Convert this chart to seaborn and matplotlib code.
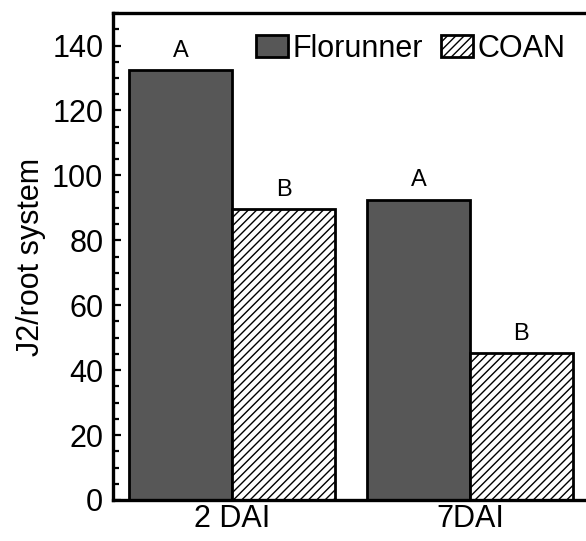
import pandas as pd
import matplotlib.pyplot as plt
import seaborn as sns
from matplotlib.ticker import MultipleLocator

# Values
times = ['2 DAI', '7DAI']
cultivars = ['Florunner', 'COAN']
florunner = [132.5, 92.5]
coan = [89.5, 45.3]
letters_florunner = ['A', 'A']
letters_coan = ['B', 'B']

df = pd.DataFrame({
    'time': times * 2,
    'cultivar': [cultivars[0]] * 2 + [cultivars[1]] * 2,
    'j2': florunner + coan,
})

sns.set_style('ticks')
plt.rcParams['font.family'] = ['Liberation Sans', 'DejaVu Sans']
plt.rcParams['hatch.linewidth'] = 1.0
for key in ['text.color', 'axes.labelcolor', 'xtick.color', 'ytick.color', 'axes.edgecolor']:
    plt.rcParams[key] = 'black'

fig = plt.figure(figsize=(5.86, 5.41), dpi=100)
ax = fig.add_axes([0.1928, 0.0758, 0.812, 0.900])

sns.barplot(data=df, x='time', y='j2', hue='cultivar', order=times,
            hue_order=cultivars, palette=['#575757', 'white'],
            width=0.866, edgecolor='black', linewidth=2.0,
            saturation=1, legend=False, ax=ax)

# hatch the COAN bars
for bar in ax.containers[1]:
    bar.set_hatch('////')

ax.bar_label(ax.containers[0], labels=letters_florunner, padding=6, fontsize=17)
ax.bar_label(ax.containers[1], labels=letters_coan, padding=6, fontsize=17)

ax.set_xlim(-0.5, 1.5)
ax.set_ylim(0, 150)
ax.yaxis.set_major_locator(MultipleLocator(20))
ax.yaxis.set_minor_locator(MultipleLocator(5))
ax.set_yticks(range(0, 141, 20))
ax.tick_params(axis='y', which='major', direction='in', length=6, width=1.6,
               labelsize=22, pad=7)
ax.tick_params(axis='y', which='minor', direction='in', length=4, width=1.6)
ax.tick_params(axis='x', length=0, labelsize=22, pad=3)

ax.set_xlabel('')
ax.set_ylabel('J2/root system', fontsize=22, labelpad=4)

for side in ['left', 'right', 'top', 'bottom']:
    ax.spines[side].set_visible(True)
    ax.spines[side].set_linewidth(2.4)

handles = [ax.containers[0].patches[0], ax.containers[1].patches[0]]
ax.legend(handles, cultivars, loc='upper right', bbox_to_anchor=(0.99, 0.995),
          ncol=2, frameon=False, fontsize=22, handlelength=1.05,
          handleheight=0.7, handletextpad=0.15, columnspacing=0.6,
          borderaxespad=0.2)

plt.savefig('out.png', dpi=100)
